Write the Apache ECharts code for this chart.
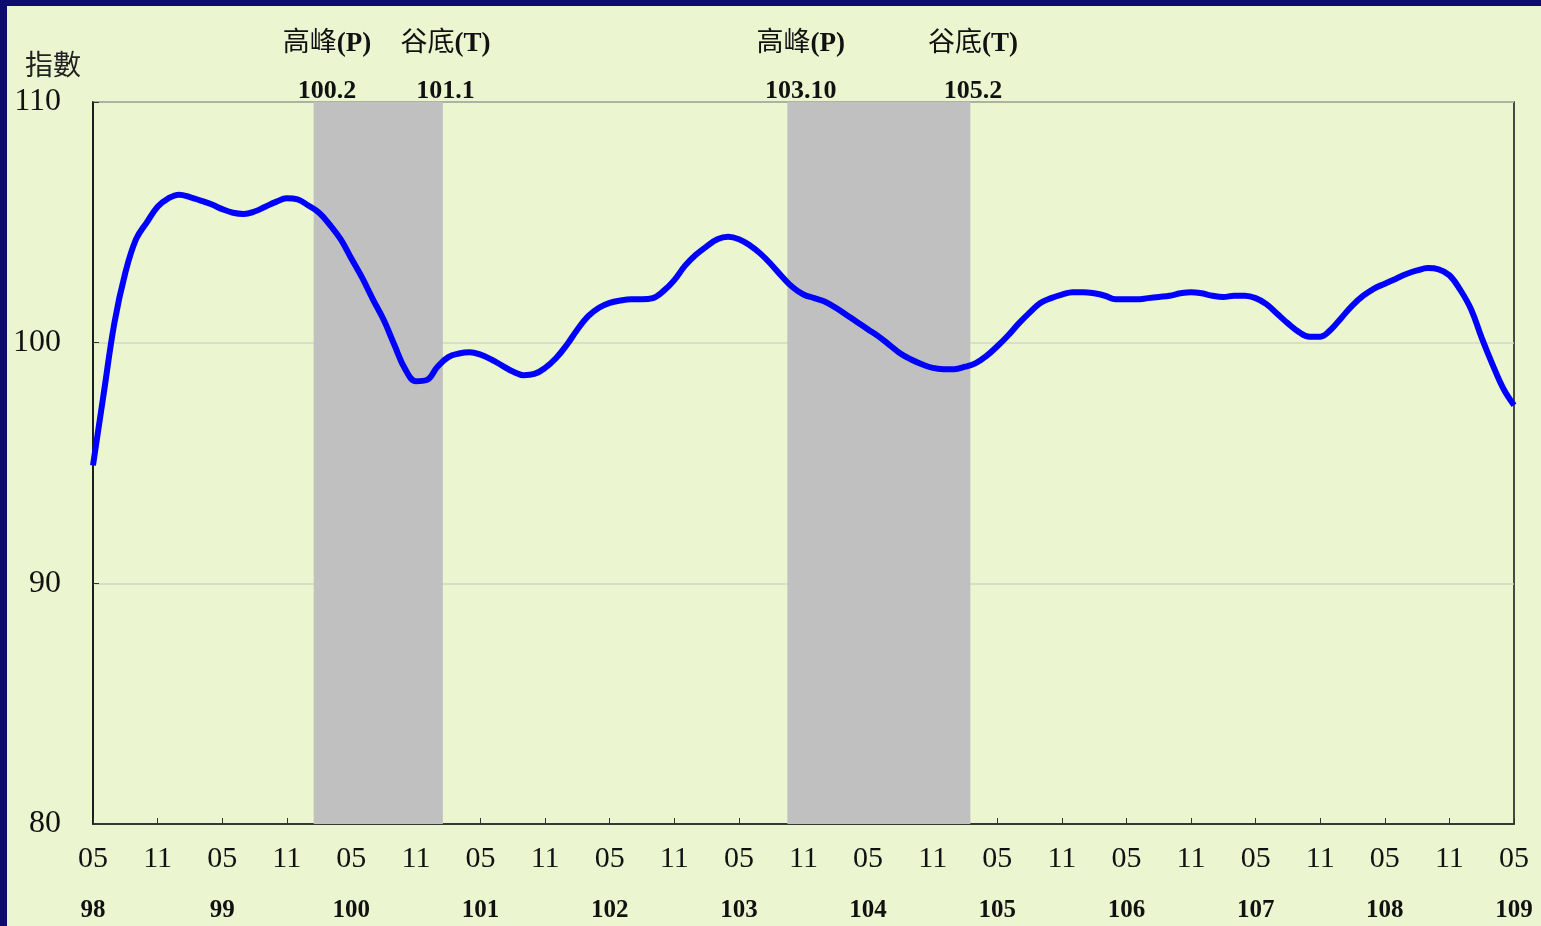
<!DOCTYPE html>
<html>
<head>
<meta charset="utf-8">
<script src="https://cdn.jsdelivr.net/npm/echarts@6/dist/echarts.min.js"></script>
<style>
  html, body { margin: 0; padding: 0; background: #0b0b72; }
  #chart { position: absolute; left: 7px; top: 6px; width: 1534px; height: 920px; background: #ebf5d0; }
</style>
</head>
<body>
<div id="chart"></div>
<script>
// first month of the series is 98/05, one value per month
const startYear = 98;
const startMonth = 5;

// 指數 values, 98/05 .. 109/05
const indexValues = [
  94.9, 97.9, 100.85, 102.9, 104.3, 105.0, 105.65, 106.0, 106.15, 106.05, 105.9, 105.75,
  105.55, 105.4, 105.35, 105.45, 105.65, 105.85, 106.0, 105.95, 105.7, 105.4, 104.9, 104.3,
  103.5, 102.7, 101.8, 100.95, 99.9, 98.9, 98.4, 98.45, 99.0, 99.4, 99.55, 99.6,
  99.5, 99.3, 99.05, 98.8, 98.65, 98.7, 98.95, 99.35, 99.9, 100.55, 101.1, 101.45,
  101.65, 101.75, 101.8, 101.8, 101.85, 102.15, 102.6, 103.2, 103.65, 104.0, 104.3, 104.4,
  104.3, 104.05, 103.7, 103.25, 102.75, 102.3, 102.0, 101.85, 101.7, 101.45, 101.15, 100.85,
  100.55, 100.25, 99.9, 99.55, 99.3, 99.1, 98.95, 98.9, 98.9, 99.0, 99.15, 99.45,
  99.85, 100.3, 100.8, 101.25, 101.65, 101.85, 102.0, 102.1, 102.1, 102.05, 101.95, 101.8,
  101.8, 101.8, 101.85, 101.9, 101.95, 102.05, 102.1, 102.05, 101.95, 101.9, 101.95, 101.95,
  101.85, 101.6, 101.2, 100.8, 100.45, 100.25, 100.25, 100.55, 101.05, 101.55, 101.95, 102.25,
  102.45, 102.65, 102.85, 103.0, 103.1, 103.05, 102.8, 102.2, 101.4, 100.2, 99.1, 98.1,
  97.4
];

// turning points (year.month) and their kind
const turnDates = ['100.2', '101.1', '103.10', '105.2'];
const turnKinds = ['高峰', '谷底', '高峰', '谷底'];
const turnTags = ['(P)', '(T)', '(P)', '(T)'];

const yTicks = { min: 80, max: 110, step: 10 };

const pad = n => (n < 10 ? '0' : '') + n;

const categories = indexValues.map((v, i) => {
  const m = startMonth - 1 + i;
  return (startYear + Math.floor(m / 12)) + '/' + pad(m % 12 + 1);
});

const toCat = d => {
  const [y, m] = d.split('.');
  return y + '/' + pad(+m);
};
const catIndex = d => categories.indexOf(toCat(d));

const serif = '"Liberation Serif", "Times New Roman", "Noto Sans CJK TC", serif';

const chart = echarts.init(document.getElementById('chart'));

chart.setOption({
  backgroundColor: '#ebf5d0',
  animation: false,
  grid: {
    left: 86, top: 96, right: 27, bottom: 102,
    show: true, borderColor: '#111', borderWidth: 1.5
  },
  xAxis: [
    {
      type: 'category',
      data: categories,
      boundaryGap: false,
      axisLine: { lineStyle: { color: '#111', width: 1.5 } },
      axisTick: { inside: true, length: 6, interval: 5, lineStyle: { color: '#333' } },
      axisLabel: {
        interval: 5, margin: 20,
        fontFamily: serif, fontSize: 30, color: '#111',
        formatter: v => v.split('/')[1]
      },
      splitLine: { show: false }
    },
    {
      type: 'category',
      data: categories,
      position: 'bottom',
      offset: 64,
      boundaryGap: false,
      axisLine: { show: false },
      axisTick: { show: false },
      axisLabel: {
        interval: 11, margin: 10,
        fontFamily: serif, fontSize: 25, fontWeight: 'bold', color: '#111',
        formatter: v => v.split('/')[0]
      }
    },
    {
      // hidden month-index axis, used only for the shaded phases
      type: 'value',
      min: 0, max: indexValues.length - 1,
      show: false
    }
  ],
  yAxis: {
    type: 'value',
    min: yTicks.min, max: yTicks.max, interval: yTicks.step,
    name: '指數',
    nameLocation: 'end',
    nameGap: 20,
    nameTextStyle: {
      fontFamily: serif, fontSize: 28, color: '#222',
      align: 'right', verticalAlign: 'bottom', padding: [0, 12, 0, 0]
    },
    axisLine: { show: true, lineStyle: { color: '#111', width: 1.5 } },
    axisTick: { show: true, inside: true, length: 6, lineStyle: { color: '#333' } },
    axisLabel: { margin: 32, fontFamily: serif, fontSize: 32, color: '#111', padding: [6, 0, 0, 0] },
    splitLine: { show: true, lineStyle: { color: '#d2d6c4', width: 1.5 } }
  },
  series: [
    {
      type: 'line',
      xAxisIndex: 2,
      data: [],
      silent: true,
      markArea: {
        silent: true,
        itemStyle: { color: '#c0c0c0', opacity: 1 },
        data: [
          [{ xAxis: catIndex(turnDates[0]) - 0.5 }, { xAxis: catIndex(turnDates[1]) + 0.5 }],
          [{ xAxis: catIndex(turnDates[2]) - 0.5 }, { xAxis: catIndex(turnDates[3]) + 0.5 }]
        ]
      }
    },
    {
      type: 'line',
      data: indexValues,
      xAxisIndex: 0,
      smooth: 0.4,
      symbol: 'none',
      z: 3,
      lineStyle: { color: '#0000ff', width: 6 },
      markPoint: {
        silent: true,
        symbol: 'circle',
        symbolSize: 0,
        label: {
          show: true,
          position: 'top',
          distance: 0,
          offset: [8, 0],
          formatter: p => '{k|' + p.data.kind + '}{t|' + p.data.tag + '}\n{d|' + p.data.date + '}',
          rich: {
            k: { fontFamily: serif, fontSize: 27, color: '#111', lineHeight: 72 },
            t: { fontFamily: serif, fontSize: 27, fontWeight: 'bold', color: '#111', lineHeight: 72 },
            d: { fontFamily: serif, fontSize: 26, fontWeight: 'bold', color: '#111', lineHeight: 22, align: 'center' }
          }
        },
        data: turnDates.map((d, i) => ({
          coord: [toCat(d), yTicks.max],
          kind: turnKinds[i],
          tag: turnTags[i],
          date: d
        }))
      }
    }
  ]
});
</script>
</body>
</html>
